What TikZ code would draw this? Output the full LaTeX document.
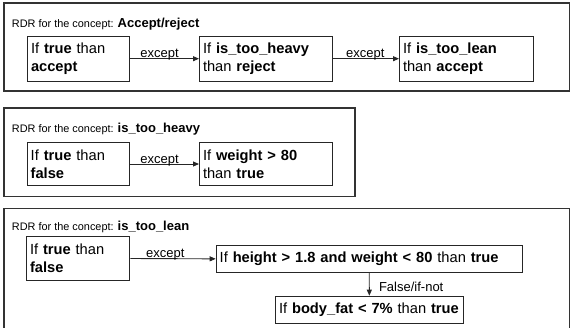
\documentclass[tikz,border=0pt]{standalone}
\usepackage{fontspec}
\setmainfont{Liberation Sans}
\usetikzlibrary{arrows.meta}
\begin{document}
\begin{tikzpicture}[x=1pt,y=-1pt,
  panel/.style={draw=black!80, line width=1.2pt},
  rulebox/.style={draw=black!85, line width=1pt, anchor=north west, inner xsep=3.5pt, inner ysep=0pt,
    align=left, font=\fontsize{14.67}{18}\selectfont},
  title/.style={anchor=base west, inner sep=0pt, font=\fontsize{10.9}{13}\selectfont},
  arr/.style={draw=black!85, line width=0.9pt, -{Triangle[length=6pt,width=5pt]}},
  lbl/.style={anchor=base west, inner sep=0pt, yshift=1pt, font=\fontsize{13}{15}\selectfont},
  vlbl/.style={anchor=west, inner sep=0pt, xshift=9.3pt, font=\fontsize{13}{15}\selectfont}]
\useasboundingbox (0,0) rectangle (572,327);
\clip (0,0) rectangle (572,327);
% Panel 1
\draw[panel] (4,3) rectangle (569.5,91);
\node[title] (t1) at (11.7,27) {RDR for the concept: \textbf{\fontsize{13}{15}\selectfont Accept/reject}};
\node[rulebox, minimum width=102.3pt, minimum height=45pt, text width=95.3pt] (a1) at (27,35.7) {If \textbf{true} than\\\textbf{accept}};
\node[rulebox, minimum width=133.3pt, minimum height=45pt, text width=126.3pt] (a2) at (199,35.7) {If \textbf{is\_too\_heavy}\\than \textbf{reject}};
\node[rulebox, minimum width=133.7pt, minimum height=45pt, text width=126.7pt] (a3) at (399,35.7) {If \textbf{is\_too\_lean}\\than \textbf{accept}};
\draw[arr] (a1.east) -- (a2.west) node[lbl, pos=0.14] {except};
\draw[arr] (a2.east) -- (a3.west) node[lbl, pos=0.19] {except};
% Panel 2
\draw[panel] (4,108) rectangle (355,196.5);
\node[title] (t2) at (11.7,132) {RDR for the concept: \textbf{\fontsize{13}{15}\selectfont is\_too\_heavy}};
\node[rulebox, minimum width=102.6pt, minimum height=43.6pt, text width=95.6pt] (b1) at (26.7,141.7) {If \textbf{true} than\\\textbf{false}};
\node[rulebox, minimum width=133.3pt, minimum height=43.6pt, text width=126.3pt] (b2) at (199,141.7) {If \textbf{weight > 80}\\than \textbf{true}};
\draw[arr] (b1.east) -- (b2.west) node[lbl, pos=0.14] {except};
% Panel 3
\draw[panel] (4,208.3) rectangle (569.5,340);
\node[title] (t3) at (11.7,230.5) {RDR for the concept: \textbf{\fontsize{13}{15}\selectfont is\_too\_lean}};
\node[rulebox, minimum width=103.3pt, minimum height=44pt, text width=96.3pt] (c1) at (26,236) {If \textbf{true} than\\\textbf{false}};
\node[rulebox, minimum width=306pt, minimum height=26.7pt, text width=299pt] (c2) at (215.7,245) {If \textbf{height > 1.8 and weight < 80} than \textbf{true}};
\node[rulebox, minimum width=187.7pt, minimum height=27.6pt, text width=180.7pt] (c3) at (275,295.7) {If \textbf{body\_fat < 7\%} than \textbf{true}};
\draw[arr] (c1.east) -- (c2.west) node[lbl, pos=0.18] {except};
\draw[arr] (c2.south) -- (c3.north) node[vlbl, pos=0.63] {False/if-not};
\end{tikzpicture}
\end{document}
